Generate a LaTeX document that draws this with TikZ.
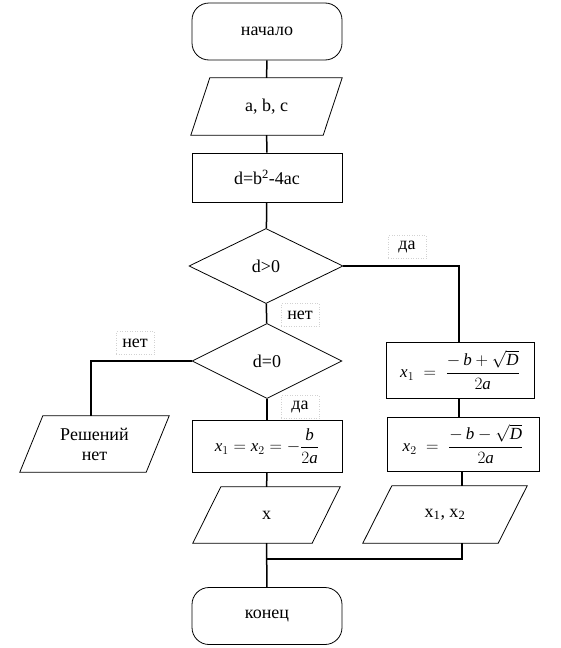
\documentclass[tikz,border=0pt]{standalone}
\usepackage{fontspec}
\setmainfont{Liberation Serif}
\usetikzlibrary{shapes.geometric}
\begin{document}
\begin{tikzpicture}[x=1pt,y=-1pt,
  every node/.style={font=\fontsize{18}{20}\selectfont},
  conn/.style={line width=1.5pt},
  shp/.style={draw, line width=0.8pt},
  term/.style={shp, rounded corners=17pt, minimum width=150pt, minimum height=57pt},
  proc/.style={shp, rectangle, inner sep=0pt},
  para/.style={rectangle, inner sep=0pt},
  dec/.style={shp, diamond, inner sep=0pt, minimum width=154pt, minimum height=75pt},
  lab/.style={draw=gray!35, dotted, line width=0.5pt, minimum width=38pt, minimum height=23pt, inner sep=1pt},
  fml/.style={font=\fontsize{17}{19}\selectfont}
]
\useasboundingbox (0,0) rectangle (561,648);

% nodes
\node[term] (start) at (267,31.5) {начало};
\node[para, minimum width=151pt, minimum height=57pt] (in) at (266.5,106.5) {a, b, c};
\node[proc, minimum width=150pt, minimum height=49pt] (calc) at (267,177.5) {d=b\textsuperscript{2}-4ac};
\node[dec] (dgt) at (266,266) {d>0};
\node[dec, minimum width=150pt] (deq) at (267,361) {d=0};
\node[para, minimum width=149pt, minimum height=56pt, align=center] (nosol) at (94.5,444) {Решений\\[0pt]нет};
\node[proc, fml, minimum width=150pt, minimum height=52pt] (xx) at (267,446)
  {$\displaystyle \textit{x}_1=\textit{x}_2=-\frac{\textit{b}}{2\textit{a}}$};
\node[para, minimum width=147pt, minimum height=56pt] (ox) at (266.5,515) {x};
\node[proc, fml, minimum width=148pt, minimum height=56pt] (xa) at (460,370)
  {$\displaystyle \textit{x}_1\;=\;\frac{-\,\textit{b}+\sqrt{\textit{D}}}{2\textit{a}}$};
\node[proc, fml, minimum width=152pt, minimum height=54pt] (xb) at (463,444)
  {$\displaystyle \textit{x}_2\;=\;\frac{-\,\textit{b}-\sqrt{\textit{D}}}{2\textit{a}}$};
\node[para, minimum width=164pt, minimum height=57pt] (oxx) at (445,514.5) {x\textsubscript{1}, x\textsubscript{2}};
\node[term] (end) at (267,616) {конец};

% parallelograms
\foreach \n/\s in {in/19, nosol/23, ox/28, oxx/29}{
  \draw[shp] ([xshift=\s pt]\n.north west) -- (\n.north east) -- ([xshift=-\s pt]\n.south east) -- (\n.south west) -- cycle;
}

% labels
\node[lab] (l1) at (407,247) {да};
\node[lab] (l2) at (300,315) {нет};
\node[lab] (l3) at (300,407) {да};
\node[lab] (l4) at (135,343) {нет};

% connectors
\coordinate (j) at (267,559);
\draw[conn] (start) -- (in);
\draw[conn] (in) -- (calc);
\draw[conn] (calc) -- (dgt);
\draw[conn] (dgt.east) -| ([xshift=-1pt]xa.north);
\draw[conn] (dgt) -- (deq);
\draw[conn] (deq.west) -| ([xshift=-3.5pt]nosol.north);
\draw[conn] (deq) -- (xx);
\draw[conn] (xx) -- (ox);
\draw[conn] ([xshift=-1pt]xa.south) -- ([xshift=-1pt]xa.south |- xb.north);
\draw[conn] ([xshift=-1pt]xb.south) -- ([xshift=-1pt]xb.south |- oxx.north);
\draw[conn] ([xshift=-1pt]xb.south |- oxx.south) |- (j);
\draw[conn] (ox) -- (end);
\end{tikzpicture}
\end{document}
